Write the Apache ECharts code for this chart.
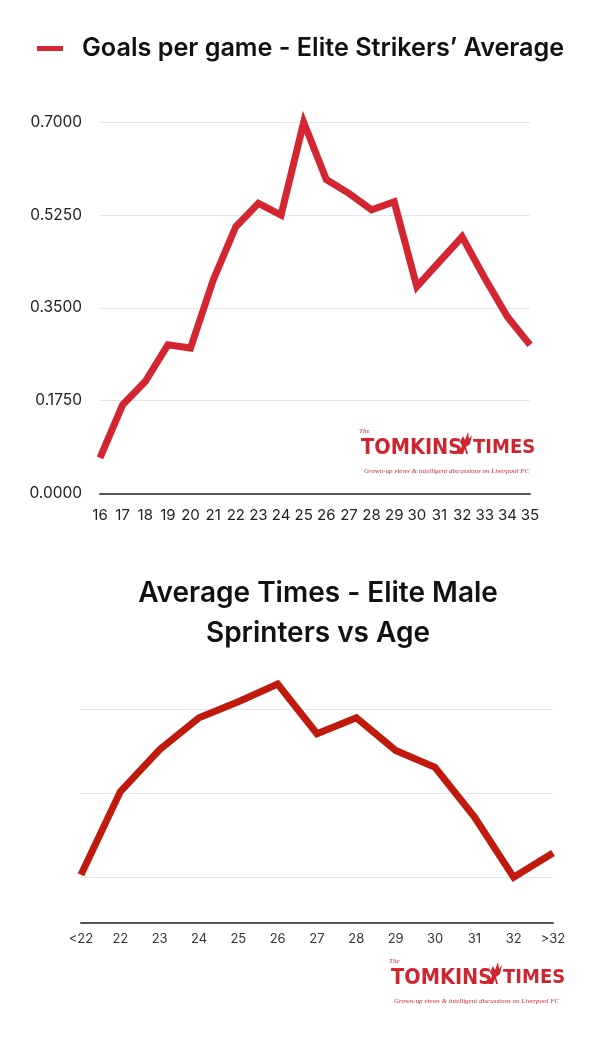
<!DOCTYPE html>
<html>
<head>
<meta charset="utf-8">
<script src="https://cdn.jsdelivr.net/npm/echarts@6/dist/echarts.min.js"></script>
<style>
html,body{margin:0;padding:0;background:#fff;}
#c{width:600px;height:1045px;}
</style>
</head>
<body>
<div id="c"></div>
<script>
const seriesName1 = 'Goals per game - Elite Strikers’ Average';
const ages1 = ['16','17','18','19','20','21','22','23','24','25','26','27','28','29','30','31','32','33','34','35'];
const goalsPerGame = [0.067,0.167,0.211,0.280,0.274,0.402,0.503,0.547,0.525,0.700,0.592,0.566,0.535,0.550,0.390,0.437,0.484,0.406,0.333,0.280];
const yTicks1 = {min: 0, max: 0.7, interval: 0.175};

const title2 = 'Average Times - Elite Male\nSprinters vs Age';
const ages2 = ['<22','22','23','24','25','26','27','28','29','30','31','32','>32'];
const sprintValues = [1.03,2.02,2.52,2.90,3.09,3.30,2.71,2.90,2.51,2.31,1.72,1.00,1.29];
const yTicks2 = {min: 1, max: 3, interval: 1};

const logoRed = '#d0242f';
const FONT = 'Inter, Lato, "Open Sans", sans-serif';
const COND = '"Liberation Sans Narrow", "DejaVu Sans Condensed", sans-serif';

function logo(x, y) {
  return [
    {type:'text', x: x - 2, y: y - 9, style:{text:'The', font:'italic 7px serif', fill: logoRed}},
    {type:'text', x: x, y: y, style:{text:'TOMKINS', font:'bold 21.5px ' + COND, fill: logoRed}},
    {type:'polygon', x: x + 93, y: y - 5, shape:{points:[[4,22],[8,14],[6,10],[9,4],[11,8],[14,0],[15,7],[18,3],[16,12],[12,15],[14,22],[12,22],[11,17],[9,22]]}, style:{fill: logoRed}},
    {type:'text', x: x + 112, y: y + 1, style:{text:'TIMES', font:'bold 20px ' + COND, fill: logoRed}},
    {type:'text', x: x + 3, y: y + 31, style:{text:'Grown-up views & intelligent discussions on Liverpool FC', font:'italic 7px serif', fill: logoRed}}
  ];
}

const chart = echarts.init(document.getElementById('c'), null, {renderer:'canvas'});
chart.setOption({
  backgroundColor: '#ffffff',
  animation: false,
  textStyle: {fontFamily: FONT},
  title: {
    text: title2,
    left: 313,
    top: 569,
    textAlign: 'center',
    textStyle: {fontFamily: FONT, fontSize: 28, fontWeight: 600, color: '#111', lineHeight: 40}
  },
  legend: {
    data: [{name: seriesName1, icon: 'rect'}],
    left: 32,
    top: 31,
    itemWidth: 26,
    itemHeight: 5,
    textStyle: {fontFamily: FONT, fontSize: 25.2, fontWeight: 600, color: '#111', padding: [0,0,0,14]}
  },
  grid: [
    {left: 100, right: 70, top: 122.3, bottom: 1045 - 493.3},
    {left: 81, right: 47, top: 709.3, bottom: 1045 - 877.3}
  ],
  xAxis: [
    {
      type: 'category', gridIndex: 0, data: ages1, boundaryGap: false,
      axisLine: {lineStyle: {color: '#555', width: 2}},
      axisTick: {show: false},
      axisLabel: {interval: 0, color: '#222', fontSize: 15, margin: 15, fontFamily: FONT}
    },
    {
      type: 'category', gridIndex: 1, data: ages2, boundaryGap: false, offset: 45.4,
      axisLine: {lineStyle: {color: '#555', width: 2}},
      axisTick: {show: false},
      axisLabel: {interval: 0, color: '#333', fontSize: 13, margin: 10, fontFamily: FONT}
    }
  ],
  yAxis: [
    {
      type: 'value', gridIndex: 0, min: yTicks1.min, max: yTicks1.max, interval: yTicks1.interval,
      axisLine: {show: false}, axisTick: {show: false},
      axisLabel: {color: '#222', fontSize: 15.5, margin: 18, fontFamily: FONT, formatter: v => v.toFixed(4)},
      splitLine: {lineStyle: {color: '#e6e6e6', width: 1}}
    },
    {
      type: 'value', gridIndex: 1, min: yTicks2.min, max: yTicks2.max, interval: yTicks2.interval,
      axisLine: {show: false}, axisTick: {show: false},
      axisLabel: {show: false},
      splitLine: {lineStyle: {color: '#e3e3e3', width: 1}}
    }
  ],
  series: [
    {
      name: seriesName1, type: 'line', xAxisIndex: 0, yAxisIndex: 0, data: goalsPerGame,
      showSymbol: false, symbol: 'none', clip: false,
      color: '#d42532',
      lineStyle: {color: '#d42532', width: 7, join: 'miter', cap: 'butt'},
      itemStyle: {color: '#d42532'}
    },
    {
      name: 'Sprinters', type: 'line', xAxisIndex: 1, yAxisIndex: 1, data: sprintValues,
      showSymbol: false, symbol: 'none', clip: false,
      color: '#c0190d',
      lineStyle: {color: '#c0190d', width: 7, join: 'miter', cap: 'butt'}
    }
  ],
  graphic: [].concat(logo(361, 437), logo(391, 967))
});
</script>
</body>
</html>
